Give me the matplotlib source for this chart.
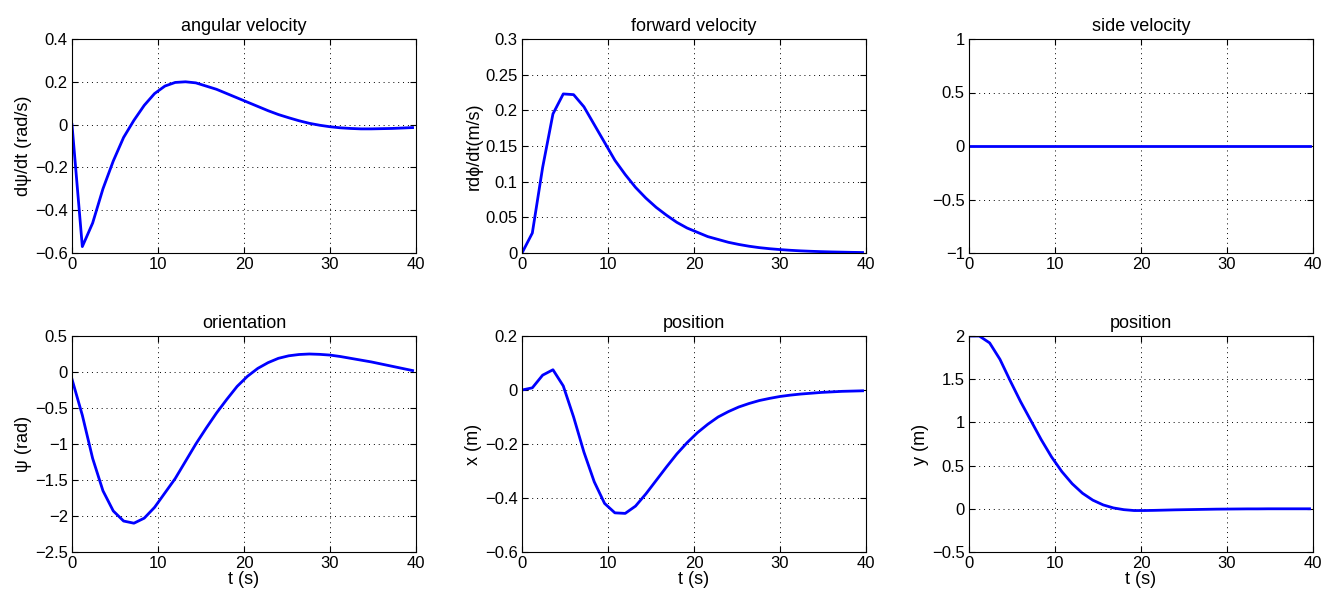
import matplotlib.pyplot as plt

plt.rcParams['font.family'] = ['Liberation Sans', 'DejaVu Sans']
plt.rcParams['font.size'] = 12

# simulation time (s)
t = [0, 1.2, 2.4, 3.6, 4.8, 6.0, 7.2, 8.4, 9.6, 10.8, 12.0, 13.2, 14.4, 15.6, 16.8,
     18.0, 19.2, 20.4, 21.6, 22.8, 24.0, 25.2, 26.4, 27.6, 28.8, 30.0, 31.2, 32.4,
     33.6, 34.8, 36.0, 37.2, 38.4, 39.6]

ang_vel = [0, -0.57, -0.46, -0.30, -0.17, -0.06, 0.02, 0.09, 0.145, 0.18, 0.197, 0.2,
           0.195, 0.18, 0.165, 0.145, 0.125, 0.105, 0.085, 0.065, 0.047, 0.032, 0.018,
           0.006, -0.003, -0.01, -0.015, -0.018, -0.02, -0.02, -0.019, -0.018, -0.016, -0.014]

fwd_vel = [0, 0.028, 0.12, 0.195, 0.223, 0.222, 0.205, 0.18, 0.155, 0.13, 0.11, 0.092,
           0.077, 0.064, 0.053, 0.043, 0.035, 0.029, 0.023, 0.019, 0.015, 0.012, 0.0095,
           0.0075, 0.006, 0.0048, 0.0038, 0.003, 0.0024, 0.0019, 0.0015, 0.0012, 0.0009, 0.0007]

side_vel = [0] * 34

psi = [-0.1, -0.6, -1.2, -1.65, -1.93, -2.07, -2.1, -2.03, -1.88, -1.68, -1.48, -1.24,
       -1.0, -0.78, -0.57, -0.38, -0.2, -0.06, 0.05, 0.13, 0.19, 0.225, 0.243, 0.25,
       0.245, 0.235, 0.215, 0.19, 0.165, 0.14, 0.11, 0.08, 0.05, 0.02]

pos_x = [0, 0.008, 0.055, 0.075, 0.015, -0.1, -0.23, -0.34, -0.42, -0.455, -0.457, -0.43,
         -0.385, -0.335, -0.285, -0.237, -0.195, -0.158, -0.127, -0.1, -0.08, -0.063, -0.05,
         -0.039, -0.031, -0.024, -0.019, -0.015, -0.012, -0.009, -0.007, -0.005, -0.004, -0.003]

pos_y = [2, 2, 1.92, 1.73, 1.48, 1.24, 1.02, 0.8, 0.6, 0.43, 0.29, 0.18, 0.1, 0.045, 0.01,
         -0.01, -0.02, -0.02, -0.018, -0.015, -0.012, -0.01, -0.008, -0.006, -0.004, -0.003,
         -0.002, -0.001, -0.001, 0, 0, 0, 0, 0]

W, H = 1333, 595
lefts = [72, 522, 969]
width = 344
rows = [(39, 253), (336, 552)]

panels = [
    (ang_vel, 'angular velocity', 'dψ/dt (rad/s)', (-0.6, 0.4), [-0.6, -0.4, -0.2, 0, 0.2, 0.4], ['−0.6', '−0.4', '−0.2', '0', '0.2', '0.4']),
    (fwd_vel, 'forward velocity', 'rdϕ/dt(m/s)', (0, 0.3), [0, 0.05, 0.1, 0.15, 0.2, 0.25, 0.3], ['0', '0.05', '0.1', '0.15', '0.2', '0.25', '0.3']),
    (side_vel, 'side velocity', '', (-1, 1), [-1, -0.5, 0, 0.5, 1], ['−1', '−0.5', '0', '0.5', '1']),
    (psi, 'orientation', 'ψ (rad)', (-2.5, 0.5), [-2.5, -2, -1.5, -1, -0.5, 0, 0.5], ['−2.5', '−2', '−1.5', '−1', '−0.5', '0', '0.5']),
    (pos_x, 'position', 'x (m)', (-0.6, 0.2), [-0.6, -0.4, -0.2, 0, 0.2], ['−0.6', '−0.4', '−0.2', '0', '0.2']),
    (pos_y, 'position', 'y (m)', (-0.5, 2), [-0.5, 0, 0.5, 1, 1.5, 2], ['−0.5', '0', '0.5', '1', '1.5', '2']),
]

fig = plt.figure(figsize=(W / 100, H / 100), dpi=100)

for i, (vals, title, ylab, ylim, yt, ytl) in enumerate(panels):
    r, c = divmod(i, 3)
    top, bot = rows[r]
    ax = fig.add_axes([lefts[c] / W, 1 - bot / H, width / W, (bot - top) / H])
    ax.plot(t, vals, color=(0, 0, 1), lw=2)
    ax.set_xlim(0, 40)
    ax.set_ylim(*ylim)
    ax.set_xticks([0, 10, 20, 30, 40])
    ax.set_yticks(yt)
    ax.set_yticklabels(ytl)
    ax.grid(True, linestyle=(0, (1, 4)), color='black', lw=0.7)
    ax.tick_params(direction='in', top=True, right=True, length=4, labelsize=12, pad=3)
    ax.set_title(title, fontsize=13, pad=6)
    if ylab:
        ax.set_ylabel(ylab, fontsize=13, labelpad=2)
    if r == 1:
        ax.set_xlabel('t (s)', fontsize=13, labelpad=0)

fig.savefig('out.png', dpi=100)
